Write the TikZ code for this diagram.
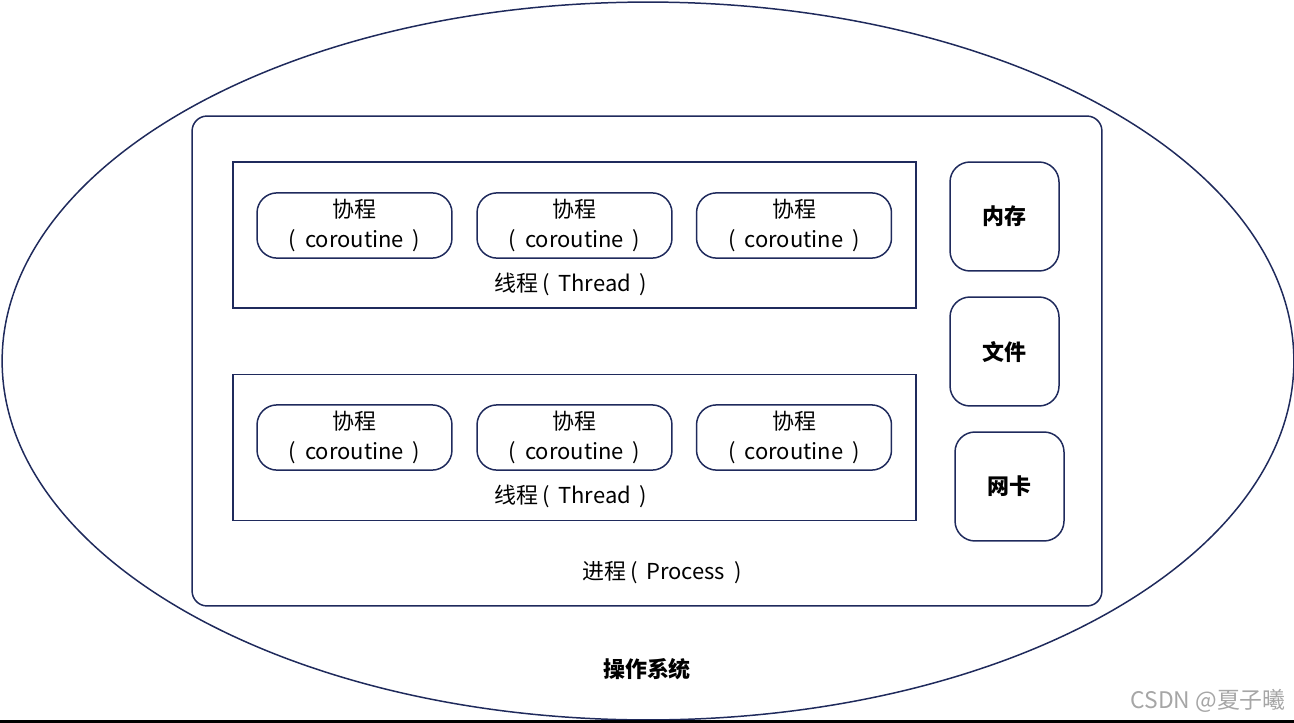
\documentclass[tikz,border=0pt]{standalone}
\usepackage{fontspec}
\setmainfont{Noto Sans CJK SC}
\usetikzlibrary{shapes.geometric}
\definecolor{edge}{HTML}{1F2A5C}
\begin{document}
\begin{tikzpicture}[x=0.02cm,y=-0.02cm,
    line/.style={draw=edge,line width=0.85pt},
    txt/.style={font=\fontsize{12.5}{17.5}\selectfont,align=center},
    corobox/.style={line,txt,rounded corners=0.4cm,minimum width=3.9cm,minimum height=1.3cm},
    thrbox/.style={line,minimum width=13.66cm,minimum height=2.92cm},
    resbox/.style={line,rounded corners=0.4cm,minimum size=2.18cm,font=\fontsize{12.5}{14}\selectfont\bfseries}]
	\useasboundingbox (0,0) rectangle (1294,723);
	\node[line,ellipse,minimum width=25.84cm,minimum height=14.36cm] (os) at (648,361) {};
	\node[line,rounded corners=0.3cm,minimum width=18.2cm,minimum height=9.8cm] (proc) at (647,361) {};
	% threads
	\node[thrbox] (t1) at (574.5,235) {};
	\node[thrbox] (t2) at (574.5,447.5) {};
	\foreach \y/\t in {225.5/1,437.5/2}
		\foreach \x/\c in {354.5/a,574.5/b,794/c}
			\node[corobox] (co\t\c) at (\x,\y) {协程\\(\hspace{0.4em}coroutine\hspace{0.4em})};
	\node[txt] (l1) at (571,284) {线程\,(\hspace{0.4em}Thread\hspace{0.4em})};
	\node[txt] (l2) at (571,496) {线程\,(\hspace{0.4em}Thread\hspace{0.4em})};
	% resources
	\node[resbox] (mem) at (1004.5,216.5) {内存};
	\node[resbox] (file) at (1004.5,351.5) {文件};
	\node[resbox] (nic) at (1009.5,486.5) {网卡};
	\node[txt] (lp) at (662,573) {进程\,(\hspace{0.4em}Process\hspace{0.4em})};
	\node[txt,font=\fontsize{12.5}{14}\selectfont\bfseries] (los) at (647,669) {操作系统};
	\node[txt,text=black!35,font=\fontsize{13}{15}\selectfont] (mark) at (1208,701) {CSDN @夏子曦};
	\draw[line width=1.2pt] (0,721.5) coordinate (bl) -- (1294,721.5) coordinate (br);
\end{tikzpicture}
\end{document}
